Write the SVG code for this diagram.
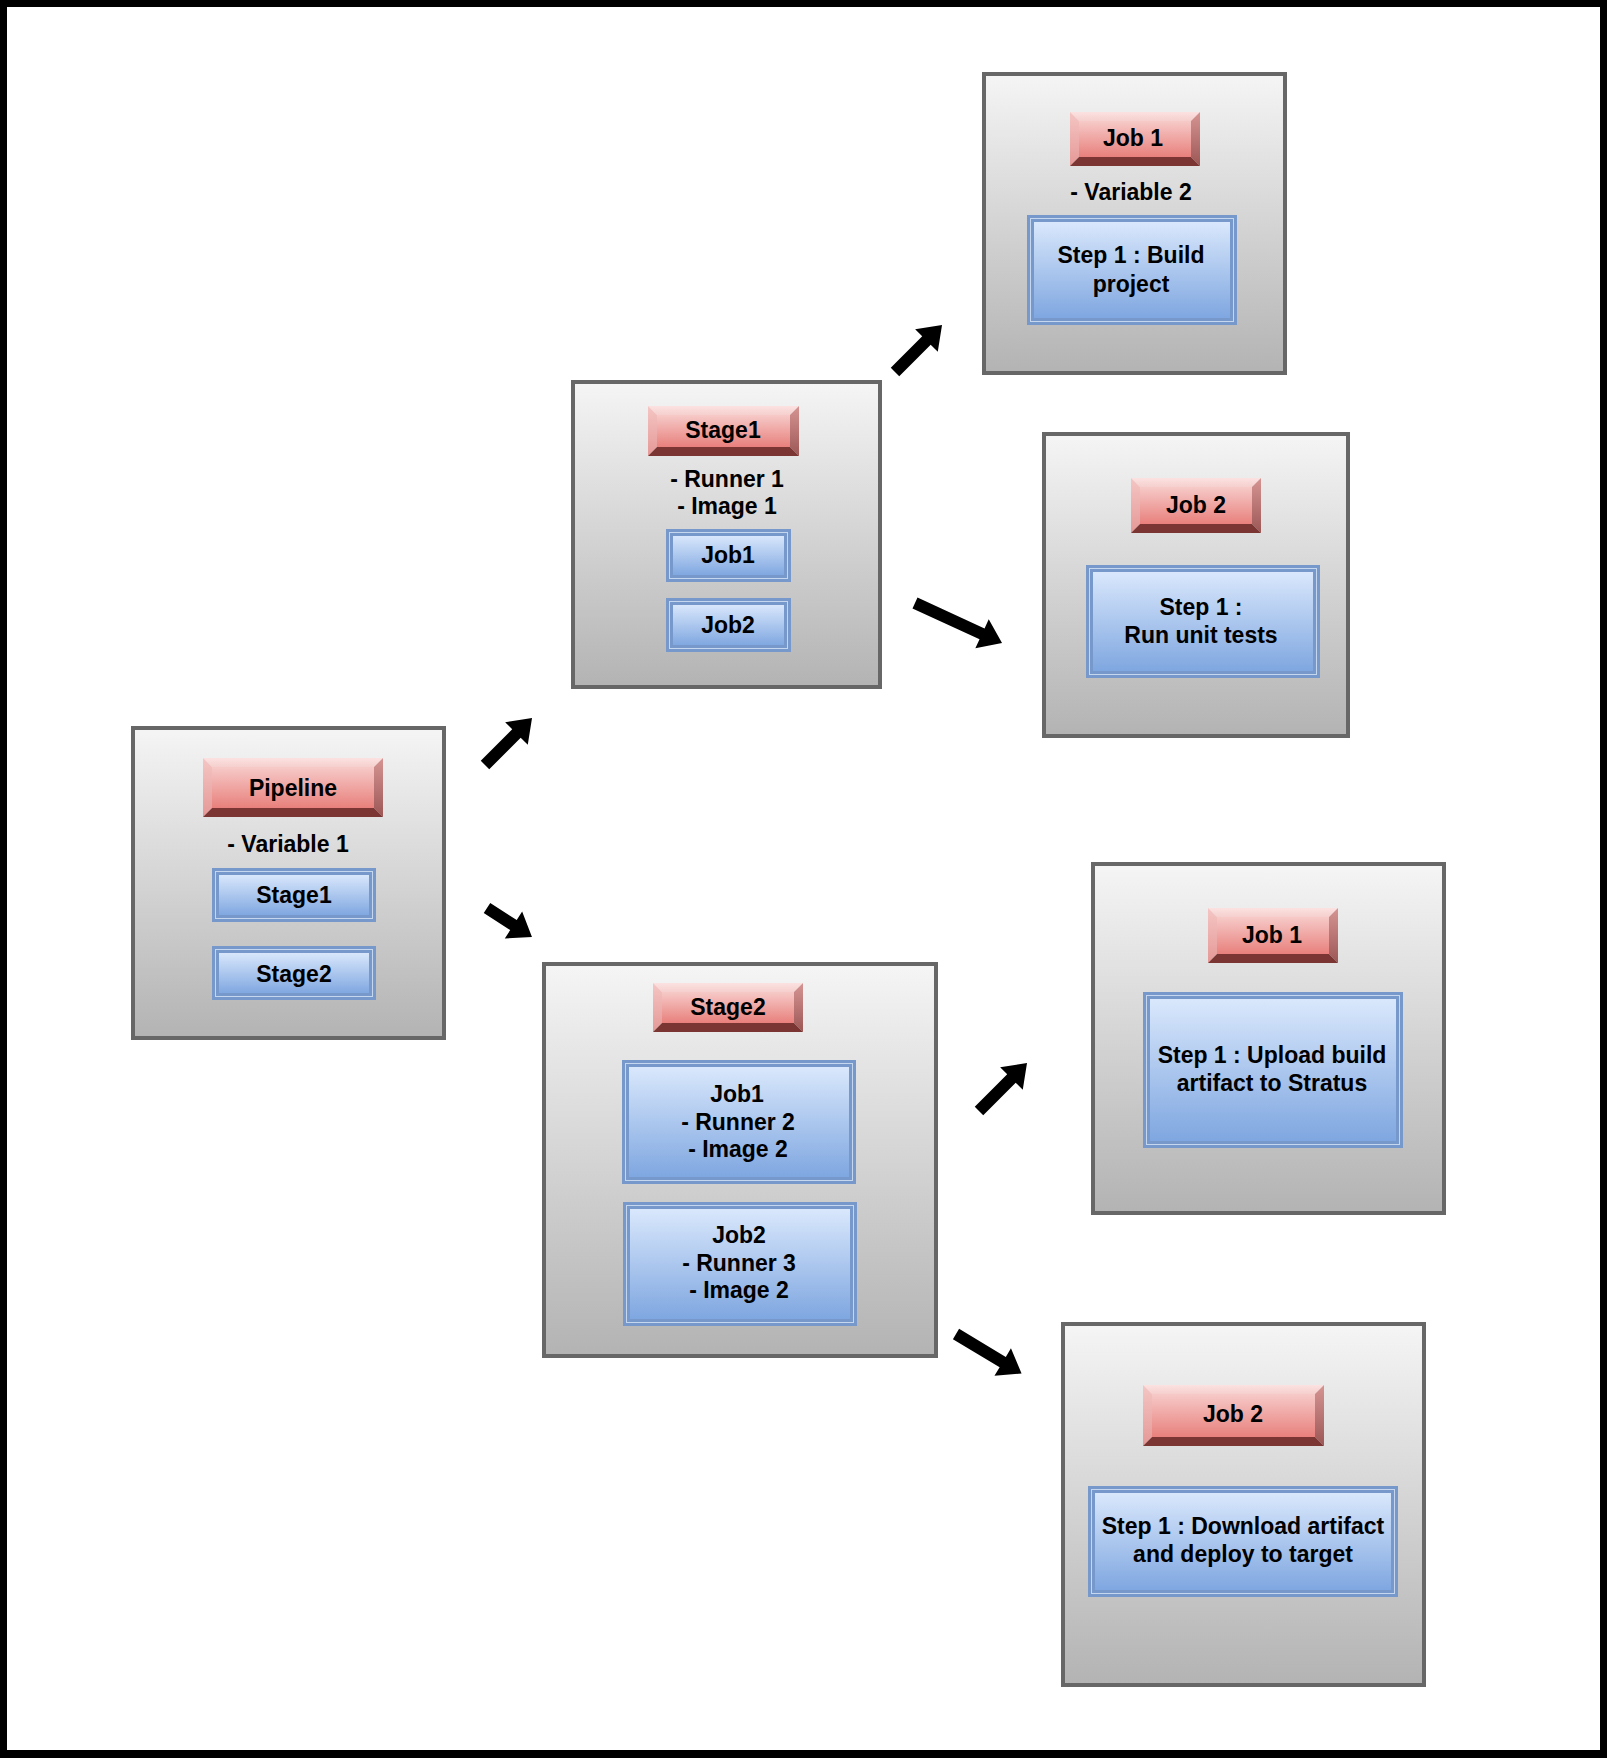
<svg xmlns="http://www.w3.org/2000/svg" width="1607" height="1758" viewBox="0 0 1607 1758">
<defs>
<linearGradient id="greyG" x1="0" y1="0" x2="0" y2="1"><stop offset="0" stop-color="#f5f5f5"/><stop offset="1" stop-color="#b3b3b3"/></linearGradient>
<linearGradient id="redFace" x1="0" y1="0" x2="0" y2="1"><stop offset="0" stop-color="#f6cac8"/><stop offset="1" stop-color="#e8807c"/></linearGradient>
<linearGradient id="redTop" x1="0" y1="0" x2="0" y2="1"><stop offset="0" stop-color="#fbe2e1"/><stop offset="1" stop-color="#f5cfcd"/></linearGradient>
<linearGradient id="redLeft" x1="0" y1="0" x2="0" y2="1"><stop offset="0" stop-color="#f4c6c4"/><stop offset="1" stop-color="#e59896"/></linearGradient>
<linearGradient id="redRight" x1="0" y1="0" x2="0" y2="1"><stop offset="0" stop-color="#d59492"/><stop offset="1" stop-color="#9c5755"/></linearGradient>
<linearGradient id="blueG" x1="0" y1="0" x2="0" y2="1"><stop offset="0" stop-color="#dae8fc"/><stop offset="1" stop-color="#7ea6e0"/></linearGradient>
<style>
.c{fill:url(#greyG);stroke:#676767;stroke-width:4}
.rf{fill:url(#redFace)}
.rt{fill:url(#redTop)}
.rl{fill:url(#redLeft)}
.rr{fill:url(#redRight)}
.rb{fill:#7b3633}
.bo{fill:#7698cb}
.bl{fill:none;stroke:#c5d6ef;stroke-width:1}
.bi{fill:url(#blueG);stroke:#7698cb;stroke-width:2}
text{font-family:"Liberation Sans",Arial,Helvetica,sans-serif;font-weight:bold;font-size:23px;fill:#000;text-anchor:middle}
.arr{fill:#000}
</style>
</defs>
<rect x="0" y="0" width="1607" height="1758" fill="#000"/>
<rect x="7" y="7" width="1593" height="1743" fill="#fff"/>

<g id="pipeline">
<rect class="c" x="133" y="728" width="311" height="310"/>
<rect class="rf" x="212" y="767" width="162" height="41"/>
<polygon class="rt" points="203,758 383,758 374,767 212,767"/>
<polygon class="rl" points="203,758 212,767 212,808 203,817"/>
<polygon class="rr" points="383,758 383,817 374,808 374,767"/>
<polygon class="rb" points="203,817 212,808 374,808 383,817"/>
<text x="293" y="796">Pipeline</text>
<text x="288" y="852">- Variable 1</text>
<rect class="bo" x="212" y="868" width="164" height="54"/>
<rect class="bl" x="215.5" y="871.5" width="157" height="47"/>
<rect class="bi" x="218" y="874" width="152" height="42"/>
<text x="294" y="903">Stage1</text>
<rect class="bo" x="212" y="946" width="164" height="54"/>
<rect class="bl" x="215.5" y="949.5" width="157" height="47"/>
<rect class="bi" x="218" y="952" width="152" height="42"/>
<text x="294" y="982">Stage2</text>
</g>

<g id="stage1">
<rect class="c" x="573" y="382" width="307" height="305"/>
<rect class="rf" x="657" y="415" width="133" height="32"/>
<polygon class="rt" points="648,406 799,406 790,415 657,415"/>
<polygon class="rl" points="648,406 657,415 657,447 648,456"/>
<polygon class="rr" points="799,406 799,456 790,447 790,415"/>
<polygon class="rb" points="648,456 657,447 790,447 799,456"/>
<text x="723" y="438">Stage1</text>
<text x="727" y="487">- Runner 1</text>
<text x="727" y="514">- Image 1</text>
<rect class="bo" x="666" y="529" width="125" height="53"/>
<rect class="bl" x="669.5" y="532.5" width="118" height="46"/>
<rect class="bi" x="672" y="535" width="113" height="41"/>
<text x="728" y="563">Job1</text>
<rect class="bo" x="666" y="598" width="125" height="54"/>
<rect class="bl" x="669.5" y="601.5" width="118" height="47"/>
<rect class="bi" x="672" y="604" width="113" height="42"/>
<text x="728" y="633">Job2</text>
</g>

<g id="stage1-job1">
<rect class="c" x="984" y="74" width="301" height="299"/>
<rect class="rf" x="1079" y="121" width="112" height="36"/>
<polygon class="rt" points="1070,112 1200,112 1191,121 1079,121"/>
<polygon class="rl" points="1070,112 1079,121 1079,157 1070,166"/>
<polygon class="rr" points="1200,112 1200,166 1191,157 1191,121"/>
<polygon class="rb" points="1070,166 1079,157 1191,157 1200,166"/>
<text x="1133" y="146">Job 1</text>
<text x="1131" y="200">- Variable 2</text>
<rect class="bo" x="1027" y="215" width="210" height="110"/>
<rect class="bl" x="1030.5" y="218.5" width="203" height="103"/>
<rect class="bi" x="1033" y="221" width="198" height="98"/>
<text x="1131" y="263">Step 1 : Build</text>
<text x="1131" y="292">project</text>
</g>

<g id="stage1-job2">
<rect class="c" x="1044" y="434" width="304" height="302"/>
<rect class="rf" x="1140" y="487" width="112" height="37"/>
<polygon class="rt" points="1131,478 1261,478 1252,487 1140,487"/>
<polygon class="rl" points="1131,478 1140,487 1140,524 1131,533"/>
<polygon class="rr" points="1261,478 1261,533 1252,524 1252,487"/>
<polygon class="rb" points="1131,533 1140,524 1252,524 1261,533"/>
<text x="1196" y="513">Job 2</text>
<rect class="bo" x="1086" y="565" width="234" height="113"/>
<rect class="bl" x="1089.5" y="568.5" width="227" height="106"/>
<rect class="bi" x="1092" y="571" width="222" height="101"/>
<text x="1201" y="615">Step 1 :</text>
<text x="1201" y="643">Run unit tests</text>
</g>

<g id="stage2">
<rect class="c" x="544" y="964" width="392" height="392"/>
<rect class="rf" x="662" y="992" width="132" height="31"/>
<polygon class="rt" points="653,983 803,983 794,992 662,992"/>
<polygon class="rl" points="653,983 662,992 662,1023 653,1032"/>
<polygon class="rr" points="803,983 803,1032 794,1023 794,992"/>
<polygon class="rb" points="653,1032 662,1023 794,1023 803,1032"/>
<text x="728" y="1015">Stage2</text>
<rect class="bo" x="622" y="1060" width="234" height="124"/>
<rect class="bl" x="625.5" y="1063.5" width="227" height="117"/>
<rect class="bi" x="628" y="1066" width="222" height="112"/>
<text x="737" y="1102">Job1</text>
<text x="738" y="1130">- Runner 2</text>
<text x="738" y="1157">- Image 2</text>
<rect class="bo" x="623" y="1202" width="234" height="124"/>
<rect class="bl" x="626.5" y="1205.5" width="227" height="117"/>
<rect class="bi" x="629" y="1208" width="222" height="112"/>
<text x="739" y="1243">Job2</text>
<text x="739" y="1271">- Runner 3</text>
<text x="739" y="1298">- Image 2</text>
</g>

<g id="stage2-job1">
<rect class="c" x="1093" y="864" width="351" height="349"/>
<rect class="rf" x="1217" y="917" width="112" height="37"/>
<polygon class="rt" points="1208,908 1338,908 1329,917 1217,917"/>
<polygon class="rl" points="1208,908 1217,917 1217,954 1208,963"/>
<polygon class="rr" points="1338,908 1338,963 1329,954 1329,917"/>
<polygon class="rb" points="1208,963 1217,954 1329,954 1338,963"/>
<text x="1272" y="943">Job 1</text>
<rect class="bo" x="1143" y="992" width="260" height="156"/>
<rect class="bl" x="1146.5" y="995.5" width="253" height="149"/>
<rect class="bi" x="1149" y="998" width="248" height="144"/>
<text x="1272" y="1063">Step 1 : Upload build</text>
<text x="1272" y="1091">artifact to Stratus</text>
</g>

<g id="stage2-job2">
<rect class="c" x="1063" y="1324" width="361" height="361"/>
<rect class="rf" x="1152" y="1394" width="163" height="43"/>
<polygon class="rt" points="1143,1385 1324,1385 1315,1394 1152,1394"/>
<polygon class="rl" points="1143,1385 1152,1394 1152,1437 1143,1446"/>
<polygon class="rr" points="1324,1385 1324,1446 1315,1437 1315,1394"/>
<polygon class="rb" points="1143,1446 1152,1437 1315,1437 1324,1446"/>
<text x="1233" y="1422">Job 2</text>
<rect class="bo" x="1088" y="1486" width="310" height="111"/>
<rect class="bl" x="1091.5" y="1489.5" width="303" height="104"/>
<rect class="bi" x="1094" y="1492" width="298" height="99"/>
<text x="1243" y="1534">Step 1 : Download artifact</text>
<text x="1243" y="1562">and deploy to target</text>
</g>

<g id="connectors">
<polygon class="arr" transform="translate(485,765) rotate(-45)" points="0,-6 44.5,-6 44.5,-16 66.5,0 44.5,16 44.5,6 0,6"/>
<polygon class="arr" transform="translate(487,908) rotate(32.8)" points="0,-6 31.5,-6 31.5,-16 53.5,0 31.5,16 31.5,6 0,6"/>
<polygon class="arr" transform="translate(895,372) rotate(-45)" points="0,-6 44.5,-6 44.5,-16 66.5,0 44.5,16 44.5,6 0,6"/>
<polygon class="arr" transform="translate(915,603) rotate(24.7)" points="0,-6 73.8,-6 73.8,-16 95.8,0 73.8,16 73.8,6 0,6"/>
<polygon class="arr" transform="translate(979,1111) rotate(-45)" points="0,-6 45.9,-6 45.9,-16 67.9,0 45.9,16 45.9,6 0,6"/>
<polygon class="arr" transform="translate(956,1334) rotate(31)" points="0,-6 54.5,-6 54.5,-16 76.5,0 54.5,16 54.5,6 0,6"/>
</g>
</svg>
